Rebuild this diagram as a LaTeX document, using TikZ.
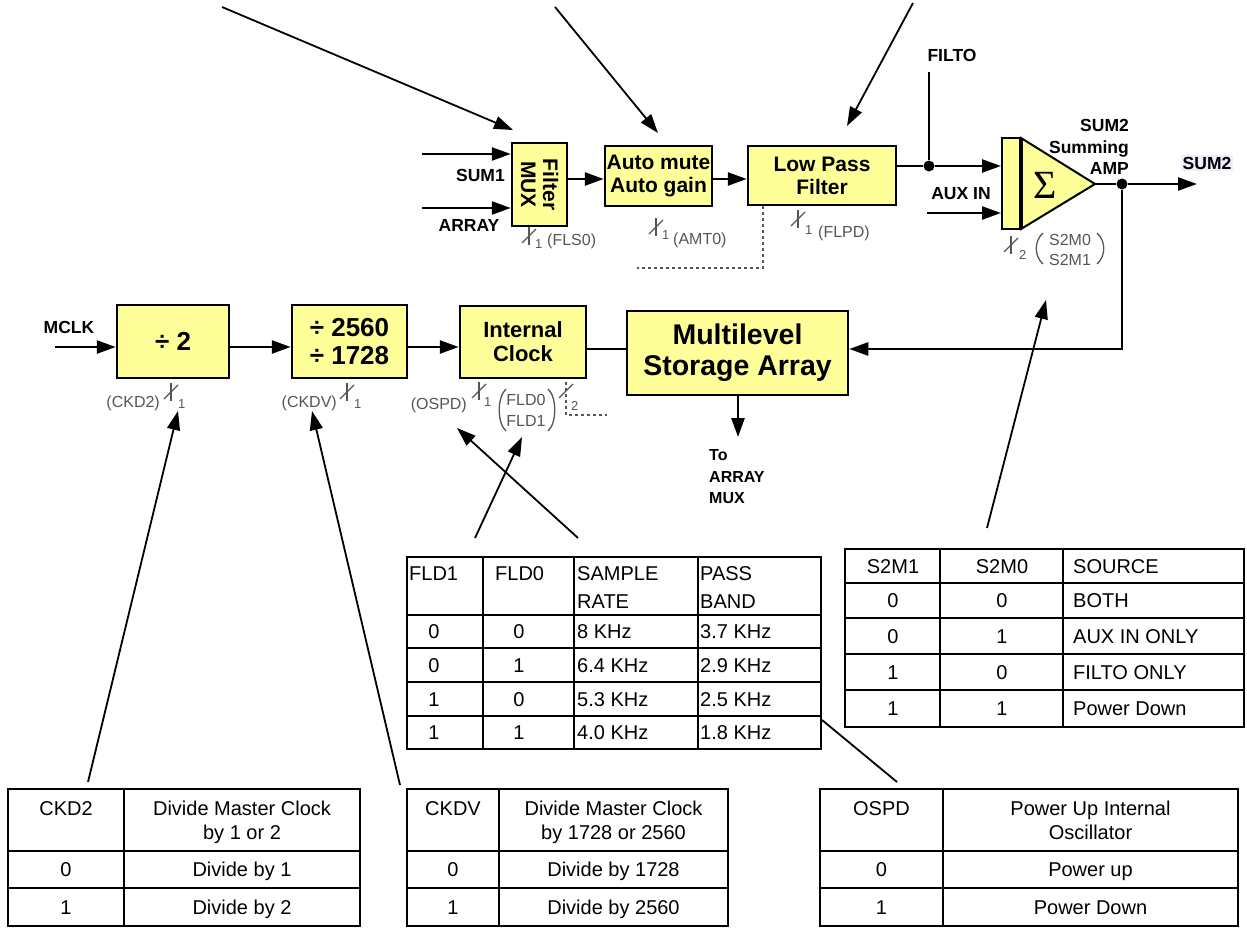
\documentclass[tikz,border=0pt]{standalone}
\usepackage{fontspec}
\setmainfont{Liberation Sans}
\newfontfamily\seriffont{Liberation Serif}
\usetikzlibrary{arrows.meta}
\definecolor{yel}{RGB}{255,255,153}
\definecolor{ann}{RGB}{85,85,85}
\definecolor{lav}{RGB}{238,238,252}
\newcommand\busmark[2]{\draw[annline] (#1,#2-9) -- (#1,#2+9); \draw[annline] (#1-7,#2+7) -- (#1+7,#2-7);}
\newcommand\lpar[3]{\draw[annline] (#1,#2) .. controls (#1-9,#2+8) and (#1-9,#3-8) .. (#1,#3);}
\newcommand\rpar[3]{\draw[annline] (#1,#2) .. controls (#1+9,#2+8) and (#1+9,#3-8) .. (#1,#3);}
\begin{document}
\begin{tikzpicture}[x=1pt,y=-1pt,
  blk/.style={draw, line width=2.5pt, fill=yel, align=center, inner sep=0pt, font=\bfseries\fontsize{21}{23}\selectfont},
  lbl/.style={font=\bfseries\fontsize{17.5}{21.5}\selectfont, inner sep=0pt},
  wire/.style={line width=2.5pt},
  arr/.style={wire, -{Triangle[length=19pt,width=13pt]}},
  ptr/.style={line width=1.8pt, -{Triangle[length=19pt,width=13pt]}},
  annot/.style={font=\fontsize{16}{18}\selectfont, text=ann, inner sep=0pt},
  annsub/.style={font=\fontsize{13}{14}\selectfont, text=ann, inner sep=0pt, anchor=base west},
  annline/.style={draw=ann, line width=1.3pt},
  tab/.style={line width=2pt},
  tt/.style={font=\fontsize{20}{24}\selectfont, inner sep=0pt, anchor=base west},
  tc/.style={font=\fontsize{20}{24}\selectfont, inner sep=0pt, anchor=base},
  dot/.style={circle, fill, inner sep=0pt, minimum size=11pt},
]
\useasboundingbox (0,0) rectangle (1247,928);

% ---------- helper rows
\coordinate (ya) at (0,179);
\coordinate (yl) at (0,166);
\coordinate (yc) at (0,347);
\coordinate (yf) at (0,349);

% ---------- top row blocks
\node[blk, minimum width=55, minimum height=83] (mux) at (539.5,184.5) {};
\node[rotate=-90, align=center, inner sep=0pt, font=\bfseries\fontsize{21}{22}\selectfont] (muxt) at (mux.center) {Filter\\MUX};
\node[blk, minimum width=107, minimum height=60] (am) at (658.5,176) {Auto mute\\Auto gain};
\node[blk, minimum width=148, minimum height=59] (lpf) at (822,175.5) {Low Pass\\Filter};

% summing amp
\node[draw, line width=2pt, fill=yel, minimum width=19, minimum height=91, inner sep=0pt] (bar) at (1011.5,183.5) {};
\coordinate (tt1) at (1021,138);
\coordinate (apex) at (1095,184);
\coordinate (tt2) at (1021,229);
\draw[line width=2pt, fill=yel, line join=miter] (tt1) -- (apex) -- (tt2) -- cycle;
\draw[line width=3.5pt] (tt1) -- (tt2);
\node[font=\seriffont\fontsize{40}{40}\selectfont, inner sep=0pt] (sig) at (1045,185) {Σ};

% inputs
\coordinate (s1in) at (422,154);
\coordinate (arin) at (422,208);
\draw[arr] (s1in) -- (s1in -| mux.west);
\draw[arr] (arin) -- (arin -| mux.west);
\node[lbl, anchor=east] (lsum1) at (505,175) {SUM1};
\node[lbl] (larr) at (469,225) {ARRAY};

\draw[arr] (mux.east |- ya) -- (am.west |- ya);
\draw[arr] (am.east |- ya) -- (lpf.west |- ya);

\node[dot] (j1) at (929,166) {};
\draw[wire] (lpf.east |- yl) -- (j1);
\draw[arr] (j1) -- (bar.west |- yl);
\coordinate (ft) at (929,72);
\draw[wire] (ft) -- (j1);
\node[lbl] (lfilto) at (952,55) {FILTO};
\coordinate (axin) at (927,213);
\draw[arr] (axin) -- (axin -| bar.west);
\node[lbl] (laux) at (961,194) {AUX IN};
\node[lbl, align=right, anchor=east] (lamp) at (1129,147) {SUM2\\Summing\\AMP};

\node[dot] (j2) at (1122,184) {};
\draw[wire] (apex) -- (j2);
\coordinate (outp) at (1197,184);
\draw[arr] (j2) -- (outp);
\node[lbl, fill=lav, inner sep=1.5pt] (lsum2) at (1207,163) {SUM2};

% ---------- clock row
\node[blk, font=\bfseries\fontsize{26}{28}\selectfont, minimum width=112, minimum height=73] (d2) at (173,341.5) {÷ 2};
\node[blk, font=\bfseries\fontsize{26}{28}\selectfont, minimum width=115, minimum height=73] (d25) at (349.5,341.5) {÷ 2560\\÷ 1728};
\node[blk, font=\bfseries\fontsize{22}{24}\selectfont, minimum width=126, minimum height=72] (ic) at (523,342) {Internal\\Clock};
\node[blk, font=\bfseries\fontsize{28.5}{31}\selectfont, minimum width=221, minimum height=84] (msa) at (737.5,353) {Multilevel\\Storage Array};

\coordinate (mclk) at (55,347);
\draw[arr] (mclk) -- (d2.west |- yc);
\node[lbl] (lmclk) at (69,327) {MCLK};
\draw[arr] (d2.east |- yc) -- (d25.west |- yc);
\draw[arr] (d25.east |- yc) -- (ic.west |- yc);
\draw[wire] (ic.east |- yf) -- (msa.west |- yf);
\draw[arr] (j2) |- (msa.east |- yf);
\coordinate (xd) at (738,0);
\coordinate (toar) at (738,437);
\draw[arr] (msa.south -| xd) -- (toar);
\node[lbl, align=left, anchor=west, font=\bfseries\fontsize{16}{21.5}\selectfont] (ltoar) at (709,477) {To\\ARRAY\\MUX};

% ---------- control annotations
\busmark{529}{236}
\node[annsub] (sb1) at (535,248) {1};
\node[annot, anchor=base west] (afls) at (547,245) {(FLS0)};

\busmark{656}{227}
\node[annsub] (sb2) at (662,239) {1};
\node[annot, anchor=base west] (aamt) at (673,244) {(AMT0)};

\busmark{798}{219}
\node[annsub] (sb3) at (805,234) {1};
\node[annot, anchor=base west] (aflpd) at (818,237) {(FLPD)};

\busmark{1011}{245}
\node[annsub] (sb4) at (1019,259) {2};
\lpar{1043}{233}{264}
\node[annot, anchor=base] (as0) at (1070,245) {S2M0};
\node[annot, anchor=base] (as1) at (1070,265) {S2M1};
\rpar{1097}{233}{264}

\draw[annline, dashed] (lpf.south -| 763,0) -- (763,268) -- (637,268);

\node[annot, anchor=base east] (ackd2) at (160,407) {(CKD2)};
\busmark{171}{392}
\node[annsub] (sb5) at (178,408) {1};

\node[annot, anchor=base east] (ackdv) at (337,407) {(CKDV)};
\busmark{347}{392}
\node[annsub] (sb6) at (354,408) {1};

\node[annot, anchor=base east] (aospd) at (467,409) {(OSPD)};
\busmark{479}{391}
\node[annsub] (sb7) at (484,406) {1};
\lpar{506}{389}{431}
\node[annot, anchor=base] (afld0) at (526,405) {FLD0};
\node[annot, anchor=base] (afld1) at (526,426) {FLD1};
\rpar{548}{389}{431}
\draw[annline] (559,398) -- (573,384);
\draw[annline, dashed] (566,382) -- (566,415) -- (607,415);
\node[annsub] (sb8) at (571,410) {2};

% ---------- pointer arrows
\coordinate (p1s) at (222,7);   \coordinate (p1e) at (513,130);
\coordinate (p2s) at (555,7);   \coordinate (p2e) at (658,133);
\coordinate (p3s) at (913,3);   \coordinate (p3e) at (847,126);
\coordinate (p4s) at (475,538); \coordinate (p4e) at (522,437);
\coordinate (p5s) at (578,538); \coordinate (p5e) at (457,428);
\coordinate (p6s) at (88,782);  \coordinate (p6e) at (178,411);
\coordinate (p7s) at (400,785); \coordinate (p7e) at (312,411);
\coordinate (p8s) at (987,528); \coordinate (p8e) at (1046,300);
\coordinate (l9s) at (822,720); \coordinate (l9e) at (897,782);
\foreach \a in {1,...,8} \draw[ptr] (p\a s) -- (p\a e);
\draw[line width=1.8pt] (l9s) -- (l9e);

% ---------- FLD table
\draw[tab] (407,557) rectangle (821,749);
\foreach \x in {483,574,698} \draw[tab] (\x,557) -- (\x,749);
\foreach \y in {615,648,682,716} \draw[tab] (407,\y) -- (821,\y);
\node[tt] (fh1) at (409,580) {FLD1};
\node[tt] (fh2) at (495,580) {FLD0};
\node[tt] (fh3) at (577,580) {SAMPLE};
\node[tt] (fh3b) at (577,608) {RATE};
\node[tt] (fh4) at (700,580) {PASS};
\node[tt] (fh4b) at (700,608) {BAND};
\node[tc] at (434,638.5) {0}; \node[tc] at (519,638.5) {0}; \node[tt] at (577,638.5) {8 KHz};   \node[tt] at (700,638.5) {3.7 KHz};
\node[tc] at (434,672)   {0}; \node[tc] at (519,672)   {1}; \node[tt] at (577,672)   {6.4 KHz}; \node[tt] at (700,672)   {2.9 KHz};
\node[tc] at (434,706)   {1}; \node[tc] at (519,706)   {0}; \node[tt] at (577,706)   {5.3 KHz}; \node[tt] at (700,706)   {2.5 KHz};
\node[tc] at (434,739.5) {1}; \node[tc] at (519,739.5) {1}; \node[tt] at (577,739.5) {4.0 KHz}; \node[tt] at (700,739.5) {1.8 KHz};

% ---------- S2M table
\draw[tab] (845,549) rectangle (1244,727);
\foreach \x in {940,1063} \draw[tab] (\x,549) -- (\x,727);
\foreach \y in {583,618,654,690} \draw[tab] (845,\y) -- (1244,\y);
\node[tc] at (893,573) {S2M1}; \node[tc] at (1002,573) {S2M0}; \node[tt] at (1073,573) {SOURCE};
\node[tc] at (893,607.5) {0}; \node[tc] at (1002,607.5) {0}; \node[tt] at (1073,607.5) {BOTH};
\node[tc] at (893,643)   {0}; \node[tc] at (1002,643)   {1}; \node[tt] at (1073,643)   {AUX IN ONLY};
\node[tc] at (893,679)   {1}; \node[tc] at (1002,679)   {0}; \node[tt] at (1073,679)   {FILTO ONLY};
\node[tc] at (893,715.5) {1}; \node[tc] at (1002,715.5) {1}; \node[tt] at (1073,715.5) {Power Down};

% ---------- CKD2 table
\draw[tab] (8,789) rectangle (360,926);
\draw[tab] (124,789) -- (124,926);
\draw[tab] (8,851) -- (360,851) (8,888) -- (360,888);
\node[tc] at (66,815) {CKD2};
\node[tc] at (242,815) {Divide Master Clock};
\node[tc] at (242,839) {by 1 or 2};
\node[tc] at (66,876.5) {0}; \node[tc] at (242,876.5) {Divide by 1};
\node[tc] at (66,914) {1};   \node[tc] at (242,914) {Divide by 2};

% ---------- CKDV table
\draw[tab] (407,789) rectangle (728,926);
\draw[tab] (499,789) -- (499,926);
\draw[tab] (407,851) -- (728,851) (407,888) -- (728,888);
\node[tc] at (453,815) {CKDV};
\node[tc] at (613.5,815) {Divide Master Clock};
\node[tc] at (613.5,839) {by 1728 or 2560};
\node[tc] at (453,876.5) {0}; \node[tc] at (613.5,876.5) {Divide by 1728};
\node[tc] at (453,914) {1};   \node[tc] at (613.5,914) {Divide by 2560};

% ---------- OSPD table
\draw[tab] (820,789) rectangle (1238,926);
\draw[tab] (943,789) -- (943,926);
\draw[tab] (820,851) -- (1238,851) (820,888) -- (1238,888);
\node[tc] at (881.5,815) {OSPD};
\node[tc] at (1090.5,815) {Power Up Internal};
\node[tc] at (1090.5,839) {Oscillator};
\node[tc] at (881.5,876.5) {0}; \node[tc] at (1090.5,876.5) {Power up};
\node[tc] at (881.5,914) {1};   \node[tc] at (1090.5,914) {Power Down};
\end{tikzpicture}
\end{document}
